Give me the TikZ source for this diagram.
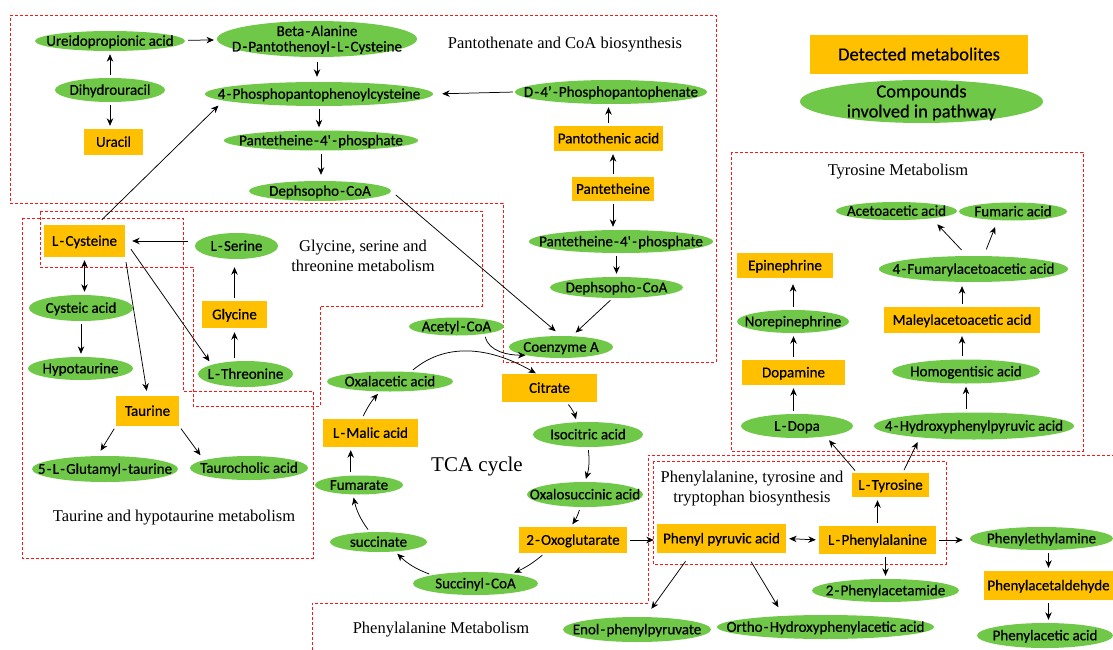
\documentclass[tikz,border=0pt]{standalone}
\usepackage{fontspec}
\setmainfont{Liberation Serif}
\newfontfamily\nf[FakeBold=0.5]{Carlito}
\usetikzlibrary{shapes.geometric,arrows.meta,calc}
\definecolor{grn}{RGB}{112,200,72}
\definecolor{org}{RGB}{255,192,0}
\definecolor{dred}{RGB}{255,20,20}
\newcommand{\hy}{\kern1.3pt-\kern1.3pt}
\newcommand{\lbl}[1]{\makebox[0pt]{\raisebox{-0.32em}[0pt][0pt]{#1}}}
\newcommand{\lbltwo}[3]{\makebox[0pt]{\raisebox{#3}[0pt][0pt]{\begin{tabular}[b]{@{}c@{}}#1\\#2\end{tabular}}}}
\tikzset{
  ell/.style 2 args={ellipse, fill=grn, minimum width=#1pt, minimum height=#2pt, inner sep=0pt, font=\nf\fontsize{15}{15.5}\selectfont},
  rbox/.style 2 args={rectangle, fill=org, minimum width=#1pt, minimum height=#2pt, inner sep=0pt, font=\nf\fontsize{15}{15.5}\selectfont},
  arr/.style={-{Stealth[length=7.5pt,width=6.5pt]}, line width=0.75pt, shorten <=3pt, shorten >=3pt},
  darr/.style={{Stealth[length=7.5pt,width=6.5pt]}-{Stealth[length=7.5pt,width=6.5pt]}, line width=0.75pt, shorten <=3pt, shorten >=3pt},
  dbox/.style={draw=dred, line width=0.8pt, dash pattern=on 3pt off 2pt},
  ttl/.style={font=\fontsize{16.5}{20}\selectfont, align=center, inner sep=0pt},
}
\begin{document}
\begin{tikzpicture}[x=1pt,y=-1pt]
\useasboundingbox (0,0) rectangle (1113,650);
\fill[white] (0,0) rectangle (1113,650);

% dashed pathway boxes
\draw[dbox] (10,15) -- (716,15) -- (716,362) -- (503,362) -- (503,203) -- (10,203) -- cycle;
\draw[dbox] (40,211) -- (482,211) -- (482,306) -- (320,306) -- (320,406) -- (193,406) -- (193,267) -- (40,267) -- cycle;
\draw[dbox] (22,218) -- (183,218) -- (183,391) -- (313,391) -- (313,558) -- (22,558) -- cycle;
\draw[dbox] (731,152) rectangle (1083,451);
\draw[dbox] (653,461) rectangle (946,564);
\draw[dbox] (312,655) -- (312,603) -- (648,603) -- (648,455) -- (1120,455);

% titles
\node[ttl] (tpanto) at (565,45) {Pantothenate and CoA biosynthesis};
\node[ttl] (tgly) at (363,256) {Glycine, serine and\\threonine metabolism};
\node[ttl] (ttau) at (174,518) {Taurine and hypotaurine metabolism};
\node[ttl, font=\fontsize{21}{24}\selectfont] (ttca) at (477,466) {TCA cycle};
\node[ttl] (ttyr) at (898,172) {Tyrosine Metabolism};
\node[ttl] (tphb) at (752,489) {Phenylalanine, tyrosine and\\tryptophan biosynthesis};
\node[ttl] (tphm) at (441,630) {Phenylalanine Metabolism};

% legend
\node[rbox={218}{39}, font=\nf\fontsize{18.5}{20}\selectfont] (legR) at (919,54.5) {\lbl{Detected metabolites}};
\node[ell={243}{43}, font=\nf\fontsize{18.5}{20}\selectfont] (legE) at (921.5,101.5) {\lbltwo{Compounds}{involved in pathway}{-15.9pt}};

% pantothenate and CoA
\node[ell={150}{20}] (ureido) at (110,41) {\lbl{Ureidopropionic acid}};
\node[ell={200}{36}] (beta) at (317,39) {\lbltwo{Beta\hy Alanine}{D\hy Pantothenoyl\hy L\hy Cysteine}{-12.5pt}};
\node[ell={110}{24}] (dihyd) at (110,90) {\lbl{Dihydrouracil}};
\node[rbox={59}{26}] (uracil) at (113.5,142) {\lbl{Uracil}};
\node[ell={228}{24}] (phos4) at (319,94) {\lbl{4\hy Phosphopantophenoylcysteine}};
\node[ell={194}{20}] (pant4p) at (321,140.5) {\lbl{Pantetheine\hy 4\textquotesingle\hy phosphate}};
\node[ell={142}{20}] (deph1) at (320,191) {\lbl{Dephsopho\hy CoA}};
\node[ell={192}{24}] (dphos) at (611,92) {\lbl{D\hy 4’\hy Phosphopantophenate}};
\node[rbox={109}{25}] (pantac) at (608.5,138.5) {\lbl{Pantothenic acid}};
\node[rbox={82}{24}] (pantet) at (613,189) {\lbl{Pantetheine}};
\node[ell={184}{23}] (pant4p2) at (621,241.5) {\lbl{Pantetheine\hy 4\textquotesingle\hy phosphate}};
\node[ell={133}{21}] (deph2) at (616.5,287.5) {\lbl{Dephsopho\hy CoA}};
\node[ell={104}{22}] (coa) at (561,347) {\lbl{Coenzyme A}};
\node[ell={95}{18}] (acetyl) at (456.5,326.5) {\lbl{Acetyl\hy CoA}};

% TCA
\node[rbox={95}{28}] (citrate) at (549.5,388) {\lbl{Citrate}};
\node[ell={110}{25}] (isoc) at (588,434.5) {\lbl{Isocitric acid}};
\node[ell={116}{25}] (oxalo) at (585,494.5) {\lbl{Oxalosuccinic acid}};
\node[rbox={108}{26}] (oxo2) at (573,540) {\lbl{2\hy Oxoglutarate}};
\node[ell={125}{23}] (succ) at (475.5,583.5) {\lbl{Succinyl\hy CoA}};
\node[ell={97}{20}] (succinate) at (378.5,542) {\lbl{succinate}};
\node[ell={88}{19}] (fum) at (359,485) {\lbl{Fumarate}};
\node[rbox={95}{28}] (lmalic) at (370.5,433) {\lbl{L\hy Malic acid}};
\node[ell={126}{20}] (oxal) at (390,381.5) {\lbl{Oxalacetic acid}};

% glycine / taurine
\node[rbox={81}{32}] (lcys) at (84.5,241) {\lbl{L\hy Cysteine}};
\node[ell={83}{26}] (lserine) at (236.5,246) {\lbl{L\hy Serine}};
\node[ell={104}{26}] (cysteic) at (81,308) {\lbl{Cysteic acid}};
\node[ell={105}{23}] (hypo) at (80.5,368.5) {\lbl{Hypotaurine}};
\node[rbox={65}{27}] (glycine) at (234.5,314.5) {\lbl{Glycine}};
\node[ell={95}{26}] (lthr) at (245.5,374) {\lbl{L\hy Threonine}};
\node[rbox={63}{30}] (taurine) at (147.5,411) {\lbl{Taurine}};
\node[ell={146}{26}] (glut) at (105,469) {\lbl{5\hy L\hy Glutamyl\hy taurine}};
\node[ell={118}{24}] (tauro) at (249,468) {\lbl{Taurocholic acid}};

% tyrosine
\node[ell={121}{18}] (acet) at (896.5,211) {\lbl{Acetoacetic acid}};
\node[ell={108}{18}] (fumaric) at (1013,211.5) {\lbl{Fumaric acid}};
\node[ell={189}{26}] (fum4) at (973.5,269) {\lbl{4\hy Fumarylacetoacetic acid}};
\node[rbox={156}{26}] (maley) at (962,320) {\lbl{Maleylacetoacetic acid}};
\node[ell={148}{24}] (homo) at (966,371.5) {\lbl{Homogentisic acid}};
\node[ell={200}{27}] (hyd4) at (974,426) {\lbl{4\hy Hydroxyphenylpyruvic acid}};
\node[rbox={96}{25}] (epi) at (785,265.5) {\lbl{Epinephrine}};
\node[ell={112}{23}] (norepi) at (793,321.5) {\lbl{Norepinephrine}};
\node[rbox={103}{25}] (dopamine) at (793.5,372.5) {\lbl{Dopamine}};
\node[ell={112}{24}] (ldopa) at (797,426) {\lbl{L\hy Dopa}};

% phenylalanine
\node[rbox={77}{24}] (ltyr) at (890.5,485) {\lbl{L\hy Tyrosine}};
\node[rbox={117}{28}] (lphe) at (877.5,540) {\lbl{L\hy Phenylalanine}};
\node[rbox={129}{29}] (phpyr) at (721.5,538.5) {\lbl{Phenyl pyruvic acid}};
\node[ell={143}{23}] (phethyl) at (1041.5,538.5) {\lbl{Phenylethylamine}};
\node[rbox={129}{29}] (phald) at (1048.5,585.5) {\lbl{Phenylacetaldehyde}};
\node[ell={136}{25}] (phac) at (1045,635.5) {\lbl{Phenylacetic acid}};
\node[ell={147}{23}] (phacet) at (885.5,590.5) {\lbl{2\hy Phenylacetamide}};
\node[ell={217}{24}] (ortho) at (825.5,627) {\lbl{Ortho\hy Hydroxyphenylacetic acid}};
\node[ell={148}{25}] (enol) at (637,629.5) {\lbl{Enol\hy phenylpyruvate}};

% connectors: pantothenate
\draw[arr] (ureido) -- (beta);
\draw[arr] (dihyd.north) -- (dihyd.north |- ureido.south);
\draw[arr] (dihyd.south) -- (dihyd.south |- uracil.north);
\draw[arr, shorten <=5pt, shorten >=5pt] (beta.south) -- (beta.south |- phos4.north);
\draw[arr] (phos4.south) -- (phos4.south |- pant4p.north);
\draw[arr, shorten >=6pt] (pant4p.south) -- (pant4p.south |- deph1.north);
\draw[arr, shorten <=2pt, shorten >=9pt] (dphos.west) -- (phos4.east);
\draw[arr] (pantac.north) -- (pantac.north |- dphos.south);
\draw[arr] (pantet.north) -- (pantet.north |- pantac.south);
\draw[arr] (pantet.south) -- (pantet.south |- pant4p2.north);
\draw[arr] (deph2.north |- pant4p2.south) -- (deph2.north);
\draw[arr, shorten >=5pt] (deph2.250) -- (coa.45);
\draw[arr, shorten <=6pt, shorten >=7pt] (deph1.east) -- (coa.north);
\draw[arr, shorten <=7pt, shorten >=7pt] (lcys.53) -- (phos4.184);

% connectors: glycine / taurine
\draw[arr, shorten <=7pt, shorten >=7pt] (lserine.west |- lcys.east) -- (lcys.east);
\draw[darr] (lcys.south) -- (lcys.south |- cysteic.north);
\draw[arr] (cysteic.south) -- (cysteic.south |- hypo.north);
\draw[arr, shorten >=8pt] (glycine.north) -- (glycine.north |- lserine.south);
\draw[arr, shorten >=4pt] (glycine.south |- lthr.north) -- (glycine.south);
\draw[arr, shorten <=10pt, shorten >=4pt] (lcys.east) -- (lthr.north west);
\draw[arr, shorten <=5pt, shorten >=5pt] (lcys.south east) -- (taurine.north);
\draw[arr, shorten >=6pt] (taurine.south west) -- (glut.120);
\draw[arr, shorten >=6pt] (taurine.south east) -- (tauro.170);

% connectors: TCA
\draw[arr, shorten >=1pt] (oxal.25) to[out=40,in=150] (citrate.132);
\draw[arr, shorten >=0pt] (acetyl.345) to[out=-75,in=180] (coa.193);
\draw[arr] (citrate.320) to[bend left=12] (isoc.132);
\draw[arr] (isoc.south) to[bend left=12] (oxalo.north);
\draw[arr] (oxalo.250) to[bend left=8] (oxo2.100);
\draw[arr] (oxo2.205) to[bend left=8] (succ.15);
\draw[arr] (succ.169) to[bend left=12] (succinate.330);
\draw[arr] (succinate.131) to[bend left=12] (fum.238);
\draw[arr] (fum.131) -- (lmalic.south -| fum.131);
\draw[arr] (lmalic.121) to[bend left=8] (oxal.225);
\draw[arr] (oxo2.east) -- (oxo2.east -| phpyr.west);

% connectors: tyrosine
\draw[arr, shorten <=8pt, shorten >=8pt] (fum4.116) -- (acet.348);
\draw[arr, shorten <=7pt, shorten >=7pt] (fum4.52) -- (fumaric.210);
\draw[arr, shorten >=4pt] (maley.north) -- (maley.north |- fum4.south);
\draw[arr] (maley.south |- homo.north) -- (maley.south);
\draw[arr] (homo.south |- hyd4.north) -- (homo.south);
\draw[arr, shorten >=6pt] (norepi.north) -- (norepi.north |- epi.south);
\draw[arr] (dopamine.north) -- (dopamine.north |- norepi.south);
\draw[arr] (dopamine.south |- ldopa.north) -- (dopamine.south);
\draw[arr, shorten >=5pt] (ltyr.160) -- (ldopa.340);
\draw[arr, shorten >=5pt] (ltyr.45) -- (hyd4.192);

% connectors: phenylalanine
\draw[arr] (lphe.north) -- (lphe.north |- ltyr.south);
\draw[arr] (phacet.north |- lphe.south) -- (phacet.north);
\draw[darr] (phpyr.east) -- (lphe.west);
\draw[arr, shorten >=7pt] (lphe.east) -- (lphe.east -| phethyl.west);
\draw[arr] (phald.north |- phethyl.south) -- (phald.north);
\draw[arr] (phald.south) -- (phald.south |- phac.north);
\draw[arr, shorten <=10pt, shorten >=10pt] (phpyr.206) -- (enol.56);
\draw[arr, shorten <=10pt, shorten >=10pt] (phpyr.329) -- (ortho.165);
\end{tikzpicture}
\end{document}
